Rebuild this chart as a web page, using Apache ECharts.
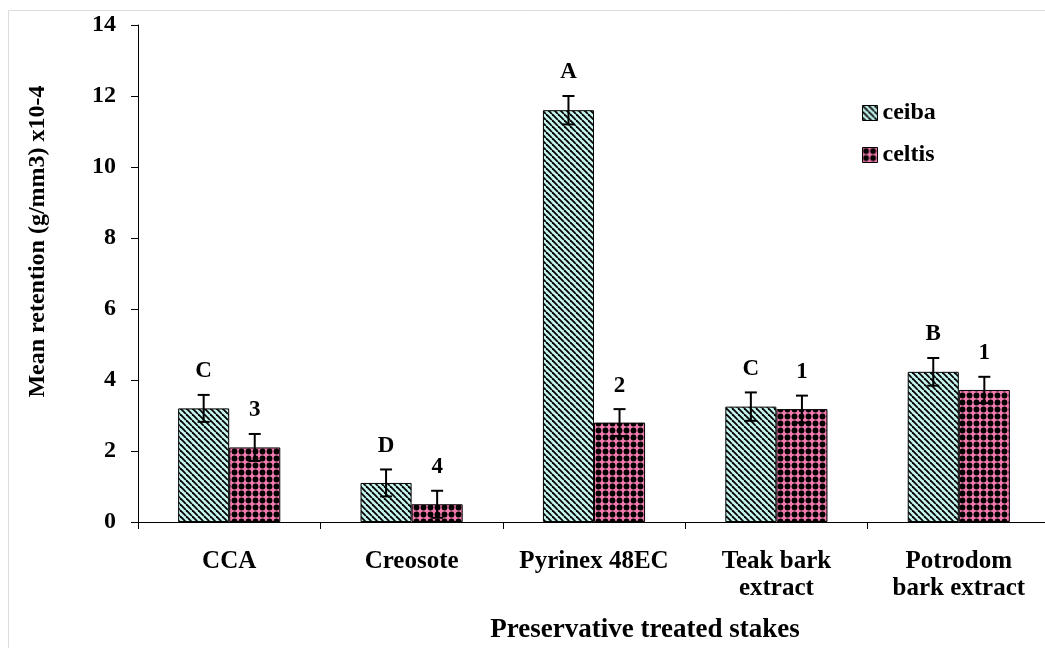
<!DOCTYPE html>
<html>
<head>
<meta charset="utf-8">
<script src="https://cdn.jsdelivr.net/npm/echarts@6/dist/echarts.min.js"></script>
<style>
html,body{margin:0;padding:0;background:#fff;}
#chart{width:1045px;height:648px;}
</style>
</head>
<body>
<div id="chart"></div>
<script>
const categories = ['CCA', 'Creosote', 'Pyrinex 48EC', 'Teak bark\nextract', 'Potrodom\nbark extract'];
const ceibaValues = [3.2, 1.1, 11.6, 3.25, 4.23];
const ceibaErrors = [0.38, 0.38, 0.40, 0.40, 0.39];
const ceibaLetters = ['C', 'D', 'A', 'C', 'B'];
const celtisValues = [2.1, 0.5, 2.8, 3.18, 3.72];
const celtisErrors = [0.38, 0.38, 0.38, 0.38, 0.37];
const celtisLetters = ['3', '4', '2', '1', '1'];
const yTicks = {min: 0, max: 14, interval: 2};

const FONT = '"Liberation Serif", "Times New Roman", serif';

function stripePattern() {
  const c = document.createElement('canvas');
  const s = 6;
  c.width = s; c.height = s;
  const g = c.getContext('2d');
  g.fillStyle = '#c6f4ee';
  g.fillRect(0, 0, s, s);
  g.strokeStyle = '#000';
  g.lineWidth = 1.8;
  for (let o = -s; o <= s; o += s) {
    g.beginPath();
    g.moveTo(o, 0);
    g.lineTo(o + s, s);
    g.stroke();
  }
  return c;
}
function dotPattern() {
  const c = document.createElement('canvas');
  const s = 7;
  c.width = s; c.height = s;
  const g = c.getContext('2d');
  g.fillStyle = '#f27aae';
  g.fillRect(0, 0, s, s);
  g.fillStyle = '#000';
  g.beginPath();
  g.arc(s / 2, s / 2, 2.9, 0, Math.PI * 2);
  g.fill();
  return c;
}
const ceibaFill = {image: stripePattern(), repeat: 'repeat'};
const celtisFill = {image: dotPattern(), repeat: 'repeat'};

const BAR_FRAC = 0.28;

function errSeries(values, errors, letters, side) {
  return {
    type: 'custom',
    name: side < 0 ? 'ceiba err' : 'celtis err',
    z: 5,
    silent: true,
    encode: {x: 0, y: 1},
    data: values.map((v, i) => [i, v, errors[i]]),
    renderItem: function (params, api) {
      const i = api.value(0);
      const v = api.value(1);
      const e = api.value(2);
      const band = api.size([1, 0])[0];
      const dx = side * band * BAR_FRAC / 2;
      const top = api.coord([i, v + e]);
      const bot = api.coord([i, v - e]);
      const x = top[0] + dx;
      const cap = 6;
      const st = {stroke: '#000', lineWidth: 2};
      return {
        type: 'group',
        children: [
          {type: 'line', shape: {x1: x, y1: top[1], x2: x, y2: bot[1]}, style: st},
          {type: 'line', shape: {x1: x - cap, y1: top[1], x2: x + cap, y2: top[1]}, style: st},
          {type: 'line', shape: {x1: x - cap, y1: bot[1], x2: x + cap, y2: bot[1]}, style: st},
          {type: 'text', style: {
            text: letters[params.dataIndex], x: x, y: top[1] - 12,
            align: 'center', verticalAlign: 'bottom',
            fontFamily: FONT, fontWeight: 'bold', fontSize: 23, fill: '#000'
          }}
        ]
      };
    }
  };
}

const chart = echarts.init(document.getElementById('chart'), null, {renderer: 'canvas'});
chart.setOption({
  backgroundColor: '#fff',
  animation: false,
  graphic: [
    {type: 'rect', shape: {x: 8.5, y: 10.5, width: 1100, height: 700}, style: {fill: 'none', stroke: '#dcdcdc', lineWidth: 1}, z: -1}
  ],
  legend: {
    data: ['ceiba', 'celtis'],
    orient: 'vertical',
    left: 857,
    top: 96,
    itemWidth: 15,
    itemHeight: 15,
    itemGap: 18,
    icon: 'rect',
    textStyle: {fontFamily: FONT, fontWeight: 'bold', fontSize: 24, color: '#000'},
    itemStyle: {borderColor: '#000', borderWidth: 1}
  },
  grid: {left: 138, top: 25, width: 912, height: 497, containLabel: false, outerBoundsMode: 'none'},
  xAxis: {
    type: 'category',
    data: categories,
    name: 'Preservative treated stakes',
    nameLocation: 'middle',
    nameGap: 95,
    nameTextStyle: {fontFamily: FONT, fontWeight: 'bold', fontSize: 27, color: '#000', padding: [0, 0, 0, 102]},
    axisLine: {lineStyle: {color: '#000', width: 1}},
    axisTick: {show: true, length: 7, lineStyle: {color: '#000'}},
    axisLabel: {
      interval: 0, margin: 26, color: '#000',
      fontFamily: FONT, fontWeight: 'bold', fontSize: 25, lineHeight: 27
    },
    splitLine: {show: false}
  },
  yAxis: {
    type: 'value',
    min: yTicks.min, max: yTicks.max, interval: yTicks.interval,
    name: 'Mean retention (g/mm3) x10-4',
    nameLocation: 'middle',
    nameGap: 88,
    nameTextStyle: {fontFamily: FONT, fontWeight: 'bold', fontSize: 24, color: '#000', padding: [0, 0, 0, 64]},
    axisLine: {show: true, lineStyle: {color: '#000', width: 1}},
    axisTick: {show: true, length: 7, lineStyle: {color: '#000'}},
    axisLabel: {margin: 22, color: '#000', fontFamily: FONT, fontWeight: 'bold', fontSize: 24},
    splitLine: {show: false}
  },
  series: [
    {
      name: 'ceiba', type: 'bar', data: ceibaValues,
      barWidth: (BAR_FRAC * 100) + '%', barGap: '0%',
      itemStyle: {color: ceibaFill, borderColor: '#000', borderWidth: 1}
    },
    {
      name: 'celtis', type: 'bar', data: celtisValues,
      barWidth: (BAR_FRAC * 100) + '%', barGap: '0%',
      itemStyle: {color: celtisFill, borderColor: '#000', borderWidth: 1}
    },
    errSeries(ceibaValues, ceibaErrors, ceibaLetters, -1),
    errSeries(celtisValues, celtisErrors, celtisLetters, 1)
  ]
});
</script>
</body>
</html>
